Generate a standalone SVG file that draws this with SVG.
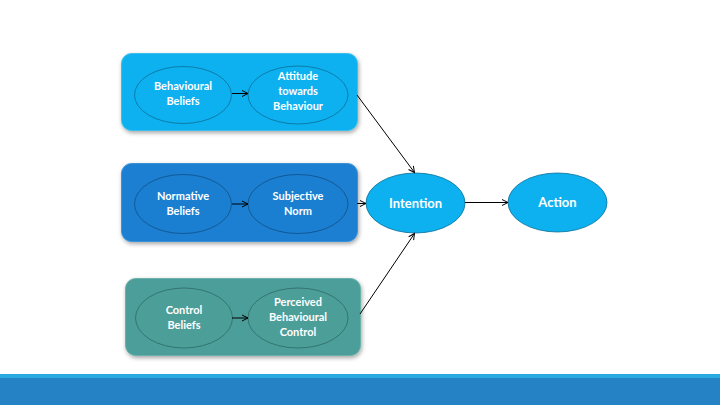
<svg xmlns="http://www.w3.org/2000/svg" width="720" height="405" viewBox="0 0 720 405">
<defs>
<filter id="sh" x="-10%" y="-10%" width="130%" height="140%">
<feDropShadow dx="1" dy="2" stdDeviation="2" flood-color="#000" flood-opacity="0.35"/>
</filter>
<marker id="ah" markerWidth="8" markerHeight="8" refX="7" refY="4" orient="auto" markerUnits="userSpaceOnUse">
<path d="M1,1 L7,4 L1,7" fill="none" stroke="#000" stroke-width="1"/>
</marker>
<style>
.t{font-family:Lato,"Open Sans",sans-serif;font-size:11px;font-weight:bold;fill:#fff;text-anchor:middle}
.tb{font-family:Lato,"Open Sans",sans-serif;font-size:13px;font-weight:bold;fill:#fff;text-anchor:middle}
.c{fill:none;stroke:#000;stroke-width:1;marker-end:url(#ah)}
.b1{fill:#0db1ef;stroke:#3bbff0;stroke-width:1}
.b2{fill:#1b7fd1;stroke:#3a92d8;stroke-width:1}
.b3{fill:#4c9e99;stroke:#6cb0ac;stroke-width:1}
.e1{fill:#0db1ef;stroke:#0a6f98;stroke-width:0.8}
.e2{fill:#1b7fd1;stroke:#0f4f86;stroke-width:0.8}
.e3{fill:#4c9e99;stroke:#2e6a66;stroke-width:0.8}
</style>
</defs>
<rect x="0" y="0" width="720" height="405" fill="#fff"/>
<rect x="0" y="374" width="720" height="5" fill="#29abe2"/>
<rect x="0" y="378" width="720" height="27" fill="#2582c5"/>

<g id="group-behaviour">
<rect class="b1" x="121.5" y="53.5" width="236" height="77" rx="10" filter="url(#sh)"/>
</g>
<g id="group-normative">
<rect class="b2" x="121.5" y="163.5" width="236" height="78" rx="10" filter="url(#sh)"/>
</g>
<g id="group-control">
<rect class="b3" x="125.5" y="278.5" width="235" height="77" rx="10" filter="url(#sh)"/>
</g>

<g id="behavioural-beliefs">
<ellipse class="e1" cx="183" cy="95" rx="48.5" ry="28.5"/>
<text class="t" x="183" y="90">Behavioural</text>
<text class="t" x="183" y="105">Beliefs</text>
</g>
<g id="attitude">
<ellipse class="e1" cx="298" cy="95" rx="50" ry="29"/>
<text class="t" x="298" y="80">Attitude</text>
<text class="t" x="298" y="95">towards</text>
<text class="t" x="298" y="110">Behaviour</text>
</g>
<g id="normative-beliefs">
<ellipse class="e2" cx="183" cy="204" rx="48.5" ry="29.5"/>
<text class="t" x="183" y="200">Normative</text>
<text class="t" x="183" y="215">Beliefs</text>
</g>
<g id="subjective-norm">
<ellipse class="e2" cx="298" cy="204" rx="50" ry="29.5"/>
<text class="t" x="298" y="200">Subjective</text>
<text class="t" x="298" y="215">Norm</text>
</g>
<g id="control-beliefs">
<ellipse class="e3" cx="184" cy="318" rx="48.5" ry="30"/>
<text class="t" x="184" y="314">Control</text>
<text class="t" x="184" y="329">Beliefs</text>
</g>
<g id="perceived-control">
<ellipse class="e3" cx="298" cy="318" rx="50" ry="30"/>
<text class="t" x="298" y="306">Perceived</text>
<text class="t" x="298" y="321">Behavioural</text>
<text class="t" x="298" y="336">Control</text>
</g>
<g id="intention">
<ellipse class="e1" cx="415.5" cy="203" rx="49.5" ry="30"/>
<text class="tb" x="415.5" y="208">Intention</text>
</g>
<g id="action">
<ellipse class="e1" cx="557.5" cy="202.5" rx="49.5" ry="29.5"/>
<text class="tb" x="557.5" y="207">Action</text>
</g>

<g id="connectors">
<line class="c" x1="232" y1="93.5" x2="248" y2="93.5"/>
<line class="c" x1="232" y1="204" x2="248" y2="204"/>
<line class="c" x1="232" y1="318" x2="248" y2="318"/>
<line class="c" x1="357" y1="95" x2="414.5" y2="172.5"/>
<line class="c" x1="357" y1="203.5" x2="366" y2="203.5"/>
<line class="c" x1="360" y1="314" x2="414.5" y2="233.5"/>
<line class="c" x1="465" y1="202.5" x2="508" y2="202.5"/>
</g>
</svg>
